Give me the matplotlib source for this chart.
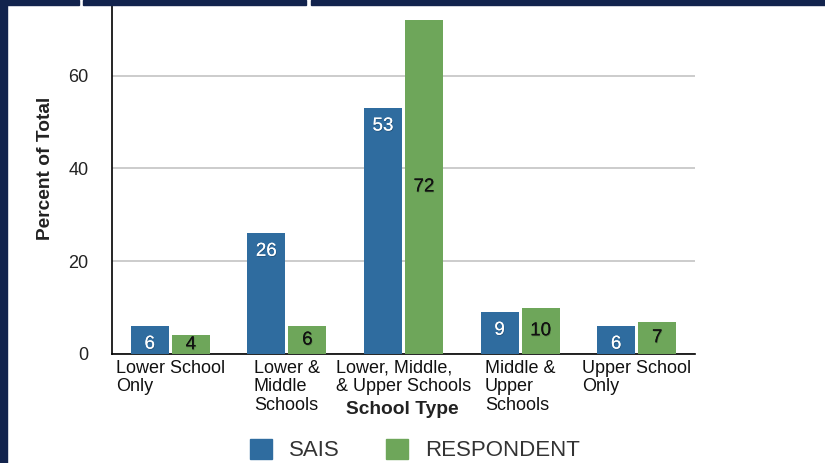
import numpy as np
import matplotlib.pyplot as plt
import matplotlib.patheffects as pe
from matplotlib.patches import Patch, Rectangle

plt.rcParams.update({
    "font.family": ["Liberation Sans", "DejaVu Sans"],
})

BLUE = "#2f6c9f"
GREEN = "#6ea65a"
NAVY = "#12234d"
GRID = "#c8c8c8"

categories = ["Lower School\nOnly", "Lower &\nMiddle\nSchools",
              "Lower, Middle,\n& Upper Schools", "Middle &\nUpper\nSchools",
              "Upper School\nOnly"]
sais = [6, 26, 53, 9, 6]
respondent = [4, 6, 72, 10, 7]
yticks = [0, 20, 40, 60]

W, H = 825, 463
fig = plt.figure(figsize=(W / 100, H / 100), dpi=100)
ax = fig.add_axes([112 / W, 1 - 354 / H, 583 / W, 349 / H])

x = np.arange(len(categories))
bw = 0.326
off = 0.176
ax.bar(x - off, sais, bw, color=BLUE, zorder=3)
ax.bar(x + off, respondent, bw, color=GREEN, zorder=3)

ax.set_xlim(-0.5, len(categories) - 0.5)
ax.set_ylim(0, 75.2)
ax.set_yticks(yticks)
ax.yaxis.grid(True, color=GRID, lw=1.3, zorder=0)
ax.set_axisbelow(True)
ax.tick_params(axis="y", length=0, pad=17, labelsize=13, labelcolor="#222222")
ax.tick_params(axis="x", length=0, pad=4)
ax.set_xticks(x)
ax.set_xticklabels(categories, fontsize=13, multialignment="left",
                   linespacing=1.12, va="top", color="#111111")
for s in ["top", "right"]:
    ax.spines[s].set_visible(False)
for s in ["left", "bottom"]:
    ax.spines[s].set_linewidth(1.2)
    ax.spines[s].set_color("black")

shadow = [pe.withSimplePatchShadow(offset=(0.5, -0.7), shadow_rgbFace="black", alpha=0.22),
          pe.Normal()]
pix = 75.2 / 349  # data units per pixel
for xi, v in zip(x, sais):
    ax.text(xi - off, v - 18 * pix, str(v), ha="center", va="center",
            color="white", fontsize=13.5, zorder=4, path_effects=shadow)
for xi, v in zip(x, respondent):
    ax.text(xi + off, v / 2, str(v), ha="center", va="center",
            color="#111111", fontsize=13.5, zorder=4, path_effects=shadow)

fig.text(45 / W, 1 - 168 / H, "Percent of Total", rotation=90, ha="center",
         va="center", fontsize=13.8, fontweight="bold", color="#222222")
fig.text(402 / W, 1 - 409 / H, "School Type", ha="center", va="center",
         fontsize=13.8, fontweight="bold", color="#222222")

handles = [Patch(color=BLUE, label="SAIS"), Patch(color=GREEN, label="RESPONDENT")]
fig.legend(handles=handles, loc="center", bbox_to_anchor=(415 / W, 1 - 450 / H),
           ncol=2, frameon=False, fontsize=16, handlelength=1.0, handleheight=1.0,
           handletextpad=0.75, columnspacing=2.1, labelcolor="#333333")

# navy frame pieces
fig.patches.append(Rectangle((0, 0), 7 / W, 1, transform=fig.transFigure,
                             color=NAVY, zorder=10))
for x0, x1 in [(0, 79), (83, 306), (311, W)]:
    fig.patches.append(Rectangle((x0 / W, 1 - 5 / H), (x1 - x0) / W, 5 / H,
                                 transform=fig.transFigure, color=NAVY, zorder=10))

fig.savefig("out.png", dpi=100)
